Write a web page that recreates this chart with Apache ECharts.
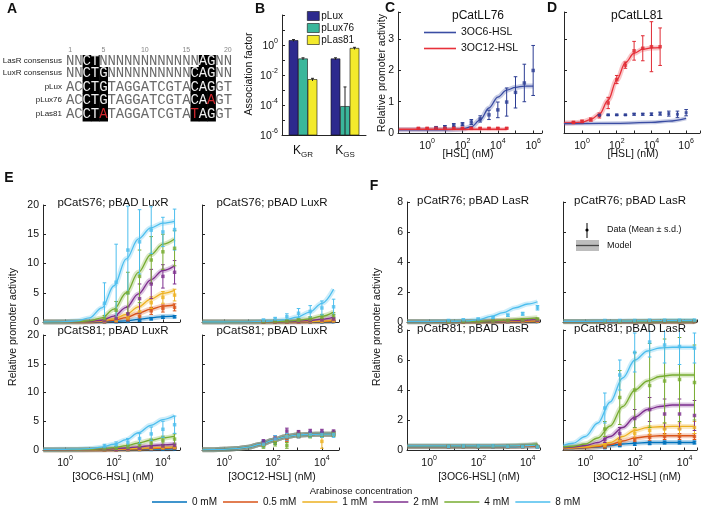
<!DOCTYPE html>
<html>
<head>
<meta charset="utf-8">
<script src="https://cdn.jsdelivr.net/npm/echarts@6/dist/echarts.min.js"></script>
<style>
html, body { margin: 0; background: #fff; }
#chart { width: 710px; height: 509px; }
</style>
</head>
<body>
<div id="chart"></div>
<script>
// ---------- panel A: sequences ----------
const seqNames = ['LasR consensus', 'LuxR consensus', 'pLux', 'pLux76', 'pLas81']
const seqs = [
  'NNCTNNNNNNNNNNNNAGNN',
  'NNCTGNNNNNNNNNNCAGNN',
  'ACCTGTAGGATCGTACAGGT',
  'ACCTGTAGGATCGTACAAGT',
  'ACCTATAGGATCGTATAGGT'
]
const boxedCols = [[3, 4, 17, 18], [3, 4, 5, 16, 17, 18], [3, 4, 5, 16, 17, 18], [3, 4, 5, 16, 17, 18], [3, 4, 5, 16, 17, 18]]
const redCols = [[], [], [], [18], [5, 16]]
const seqTicks = [1, 5, 10, 15, 20]

// ---------- panel B ----------
const bCats = ['K{sub|GR}', 'K{sub|GS}']
const bNames = ['pLux', 'pLux76', 'pLas81']
const bValues = [[2.0, 0.12], [0.12, 8e-5], [0.005, 0.6]]
const bErrLo = [[1.7, 0.1], [0.1, 1e-6], [0.004, 0.5]]
const bErrHi = [[2.3, 0.14], [0.14, 1.6e-3], [0.006, 0.7]]

// ---------- panels C and D ----------
const cHsl6 = [3.2, 10, 32, 100, 316, 1000, 3162, 10000, 31623, 1e5, 3.16e5, 1e6]
const cMean6 = [0.17, 0.2, 0.25, 0.28, 0.35, 0.45, 0.58, 0.74, 0.99, 1.3, 1.6, 2.0]
const cSd6 = [0.03, 0.04, 0.05, 0.05, 0.08, 0.1, 0.15, 0.25, 0.45, 0.5, 0.6, 0.8]
const cCurve6X = [0.025, 0.1, 1, 10, 100, 316, 1000, 3162, 10000, 31623, 1e5, 3.16e5, 1e6]
const cCurve6 = [0.1, 0.1, 0.1, 0.1, 0.13, 0.2, 0.42, 0.8, 1.15, 1.37, 1.46, 1.5, 1.5]
const cHsl12 = [0.32, 1, 3.2, 10, 32, 100, 316, 1000, 3162, 10000, 31623]
const cMean12 = [0.15, 0.15, 0.15, 0.15, 0.15, 0.15, 0.15, 0.15, 0.15, 0.15, 0.15]
const cSd12 = [0.02, 0.02, 0.02, 0.02, 0.02, 0.02, 0.02, 0.02, 0.02, 0.02, 0.02]
const cCurve12X = [0.025, 1, 100, 10000, 31623]
const cCurve12 = [0.12, 0.12, 0.12, 0.12, 0.12]

const dHsl12 = [0.32, 1, 3.2, 10, 32, 100, 316, 1000, 3162, 10000, 31623]
const dMean12 = [0.34, 0.37, 0.43, 0.56, 0.96, 1.71, 2.17, 2.63, 2.71, 2.76, 2.76]
const dSd12 = [0.03, 0.04, 0.05, 0.08, 0.18, 0.13, 0.1, 0.3, 0.4, 0.8, 0.6]
const dCurve12X = [0.09, 0.32, 1, 3.2, 10, 32, 100, 316, 1000, 3162, 10000, 31623]
const dCurve12 = [0.32, 0.33, 0.35, 0.43, 0.6, 1.05, 1.7, 2.25, 2.55, 2.68, 2.72, 2.73]
const dHsl6 = [10, 32, 100, 316, 1000, 3162, 10000, 31623, 1e5, 3.16e5, 1e6]
const dMean6 = [0.57, 0.58, 0.58, 0.58, 0.6, 0.6, 0.6, 0.62, 0.62, 0.6, 0.65]
const dSd6 = [0.02, 0.02, 0.02, 0.02, 0.03, 0.03, 0.04, 0.05, 0.08, 0.1, 0.1]
const dCurve6X = [0.09, 1, 100, 10000, 1e5, 1e6]
const dCurve6 = [0.3, 0.3, 0.31, 0.34, 0.38, 0.47]

// ---------- panels E and F ----------
const arabinose = ['0 mM', '0.5 mM', '1 mM', '2 mM', '4 mM', '8 mM']
const hslE = [41, 123, 370, 1111, 3333, 10000, 30000]
const hslF = [6.1, 24.4, 97.7, 390.6, 1562.5, 6250, 25000]
const curveXE = [0.13, 0.32, 1, 3.2, 10, 32, 100, 320, 1000, 3200, 10000, 30000]
const curveXF = [0.13, 0.32, 1, 3.2, 10, 32, 100, 320, 1000, 3200, 10000, 25000]

// E: pCatS76; pBAD LuxR vs 3OC6-HSL
const e76c6Mean = [
  [0.0, 0.05, 0.1, 0.3, 0.55, 0.8, 0.9],
  [0.05, 0.15, 0.4, 1.0, 1.9, 2.3, 2.5],
  [0.1, 0.3, 0.7, 1.8, 3.3, 4.2, 4.6],
  [0.2, 0.6, 1.4, 4.0, 6.5, 7.8, 8.5],
  [0.6, 2.0, 5.0, 7.8, 10.6, 12.0, 12.6],
  [3.2, 6.8, 12.3, 13.7, 15.7, 15.4, 15.8]
]
const e76c6Sd = [
  [0.05, 0.05, 0.1, 0.15, 0.2, 0.2, 0.2],
  [0.1, 0.1, 0.3, 0.5, 0.6, 0.6, 0.6],
  [0.1, 0.2, 0.5, 0.8, 1.0, 1.0, 1.0],
  [0.2, 0.5, 1.2, 2.5, 2.5, 2.0, 2.0],
  [0.5, 1.5, 3.5, 4.5, 4.0, 3.0, 3.0],
  [3.5, 6.5, 7.5, 5.5, 4.0, 2.5, 3.5]
]
const e76c6Curve = [
  [0, 0, 0, 0, 0.01, 0.03, 0.08, 0.2, 0.45, 0.72, 0.92, 1.0],
  [0, 0, 0, 0.01, 0.03, 0.1, 0.3, 0.75, 1.5, 2.2, 2.7, 2.95],
  [0, 0, 0, 0.01, 0.05, 0.17, 0.55, 1.3, 2.6, 3.9, 4.9, 5.4],
  [0, 0, 0.01, 0.02, 0.08, 0.3, 1.0, 2.5, 4.8, 7.2, 8.8, 9.6],
  [0, 0, 0.01, 0.05, 0.2, 0.7, 2.2, 5.0, 8.5, 11.5, 13.3, 14.2],
  [0, 0.02, 0.05, 0.2, 0.7, 2.4, 6.2, 10.8, 14.2, 16.1, 16.9, 17.2]
]
// E: pCatS76; pBAD LuxR vs 3OC12-HSL
const e76c12Mean = [
  [0, 0, 0, 0, 0, 0.02, 0.05],
  [0, 0, 0, 0.02, 0.05, 0.1, 0.15],
  [0, 0, 0.02, 0.05, 0.1, 0.15, 0.25],
  [0, 0.02, 0.05, 0.1, 0.2, 0.35, 0.5],
  [0.05, 0.1, 0.15, 0.3, 0.5, 0.8, 1.1],
  [0.3, 0.5, 0.9, 1.5, 1.8, 2.4, 2.6]
]
const e76c12Sd = [
  [0.05, 0.05, 0.05, 0.05, 0.05, 0.05, 0.05],
  [0.05, 0.05, 0.05, 0.05, 0.1, 0.1, 0.1],
  [0.05, 0.05, 0.05, 0.1, 0.1, 0.1, 0.15],
  [0.05, 0.05, 0.1, 0.1, 0.15, 0.2, 0.3],
  [0.1, 0.1, 0.2, 0.3, 0.4, 0.5, 0.5],
  [0.2, 0.3, 0.5, 0.8, 1.0, 1.2, 1.3]
]
const e76c12Curve = [
  [0, 0, 0, 0, 0, 0, 0, 0, 0.01, 0.02, 0.04, 0.07],
  [0, 0, 0, 0, 0, 0, 0, 0.01, 0.02, 0.04, 0.08, 0.15],
  [0, 0, 0, 0, 0, 0, 0.01, 0.02, 0.04, 0.08, 0.15, 0.28],
  [0, 0, 0, 0, 0, 0.01, 0.02, 0.05, 0.12, 0.25, 0.5, 0.85],
  [0, 0, 0, 0, 0.01, 0.03, 0.06, 0.13, 0.28, 0.55, 1.0, 1.7],
  [0, 0, 0, 0.01, 0.03, 0.08, 0.18, 0.4, 0.85, 1.7, 3.2, 5.6]
]
// E: pCatS81; pBAD LuxR vs 3OC6-HSL
const e81c6Mean = [
  [0.05, 0.05, 0.05, 0.1, 0.1, 0.15, 0.2],
  [0.05, 0.05, 0.1, 0.1, 0.2, 0.3, 0.35],
  [0.05, 0.1, 0.1, 0.2, 0.3, 0.4, 0.5],
  [0.1, 0.1, 0.2, 0.3, 0.5, 0.7, 0.8],
  [0.2, 0.3, 0.5, 0.8, 1.2, 1.6, 1.9],
  [0.6, 0.9, 1.3, 2.0, 2.8, 3.6, 4.4]
]
const e81c6Sd = [
  [0.05, 0.05, 0.05, 0.05, 0.05, 0.05, 0.05],
  [0.05, 0.05, 0.05, 0.05, 0.1, 0.1, 0.1],
  [0.05, 0.05, 0.05, 0.1, 0.1, 0.1, 0.15],
  [0.1, 0.1, 0.2, 0.2, 0.3, 0.3, 0.4],
  [0.2, 0.3, 0.4, 0.5, 0.7, 0.8, 0.9],
  [0.4, 0.5, 0.7, 0.9, 1.2, 1.4, 1.5]
]
const e81c6Curve = [
  [0.01, 0.01, 0.01, 0.01, 0.01, 0.02, 0.03, 0.06, 0.1, 0.14, 0.17, 0.2],
  [0.02, 0.02, 0.02, 0.02, 0.02, 0.03, 0.05, 0.1, 0.17, 0.25, 0.32, 0.36],
  [0.02, 0.02, 0.02, 0.02, 0.03, 0.05, 0.1, 0.18, 0.28, 0.38, 0.45, 0.5],
  [0.03, 0.03, 0.04, 0.05, 0.07, 0.12, 0.2, 0.35, 0.55, 0.75, 0.9, 1.0],
  [0.05, 0.05, 0.06, 0.08, 0.12, 0.2, 0.4, 0.75, 1.2, 1.7, 2.1, 2.4],
  [0.1, 0.1, 0.12, 0.15, 0.25, 0.5, 1.0, 1.8, 3.0, 4.3, 5.3, 5.95]
]
// E: pCatS81; pBAD LuxR vs 3OC12-HSL
const e81c12Mean = [
  [1.3, 1.5, 2.2, 2.6, 2.8, 2.8, 2.9],
  [1.0, 1.8, 2.0, 2.5, 2.6, 2.7, 2.8],
  [1.1, 1.7, 2.4, 2.8, 2.7, 1.5, 2.9],
  [1.4, 2.0, 3.3, 3.0, 3.2, 3.2, 3.1],
  [0.7, 1.2, 0.8, 2.6, 2.5, 2.6, 2.8],
  [1.0, 1.9, 2.3, 2.6, 2.7, 2.7, 2.7]
]
const e81c12Sd = [
  [0.4, 0.5, 0.5, 0.4, 0.4, 0.4, 0.4],
  [0.4, 0.5, 0.5, 0.4, 0.4, 0.4, 0.4],
  [0.4, 0.5, 0.5, 0.4, 0.4, 1.2, 0.4],
  [0.4, 0.5, 0.5, 0.4, 0.4, 0.4, 0.4],
  [0.4, 0.5, 0.5, 0.4, 0.4, 0.4, 0.4],
  [0.5, 0.6, 0.6, 0.5, 0.5, 0.5, 0.5]
]
const e81c12Curve = [
  [0.03, 0.06, 0.12, 0.25, 0.5, 1.0, 1.7, 2.3, 2.6, 2.7, 2.75, 2.75],
  [0.03, 0.06, 0.12, 0.25, 0.5, 1.0, 1.7, 2.3, 2.6, 2.7, 2.75, 2.75],
  [0.03, 0.06, 0.12, 0.25, 0.5, 1.0, 1.7, 2.3, 2.6, 2.7, 2.75, 2.75],
  [0.03, 0.06, 0.12, 0.25, 0.5, 1.0, 1.7, 2.3, 2.6, 2.7, 2.75, 2.75],
  [0.03, 0.06, 0.12, 0.25, 0.5, 1.0, 1.7, 2.3, 2.6, 2.7, 2.75, 2.75],
  [0.03, 0.06, 0.12, 0.25, 0.5, 1.0, 1.7, 2.3, 2.6, 2.7, 2.75, 2.75]
]
// F: pCatR76; pBAD LasR vs 3OC6-HSL
const f76c6Mean = [
  [0.02, 0.02, 0.02, 0.02, 0.02, 0.03, 0.03],
  [0.02, 0.02, 0.03, 0.03, 0.03, 0.04, 0.05],
  [0.02, 0.03, 0.03, 0.04, 0.05, 0.06, 0.08],
  [0.03, 0.03, 0.04, 0.05, 0.07, 0.09, 0.12],
  [0.03, 0.04, 0.05, 0.07, 0.1, 0.14, 0.2],
  [0.1, 0.15, 0.2, 0.3, 0.45, 0.55, 0.95]
]
const f76c6Sd = [
  [0.02, 0.02, 0.02, 0.02, 0.02, 0.02, 0.02],
  [0.02, 0.02, 0.02, 0.02, 0.02, 0.02, 0.02],
  [0.02, 0.02, 0.02, 0.02, 0.02, 0.02, 0.02],
  [0.02, 0.02, 0.02, 0.02, 0.02, 0.03, 0.03],
  [0.02, 0.02, 0.02, 0.03, 0.03, 0.04, 0.05],
  [0.03, 0.04, 0.05, 0.06, 0.08, 0.1, 0.15]
]
const f76c6Curve = [
  [0.02, 0.02, 0.02, 0.02, 0.02, 0.02, 0.02, 0.02, 0.02, 0.03, 0.03, 0.03],
  [0.02, 0.02, 0.02, 0.02, 0.02, 0.02, 0.02, 0.03, 0.03, 0.04, 0.05, 0.06],
  [0.02, 0.02, 0.02, 0.02, 0.02, 0.02, 0.03, 0.04, 0.05, 0.06, 0.08, 0.1],
  [0.02, 0.02, 0.02, 0.02, 0.02, 0.03, 0.04, 0.05, 0.07, 0.1, 0.13, 0.16],
  [0.02, 0.02, 0.02, 0.02, 0.03, 0.04, 0.05, 0.08, 0.12, 0.17, 0.23, 0.28],
  [0.02, 0.02, 0.03, 0.04, 0.05, 0.08, 0.15, 0.37, 0.62, 0.95, 1.2, 1.35]
]
// F: pCatR76; pBAD LasR vs 3OC12-HSL
const f76c12Mean = [
  [0.03, 0.03, 0.03, 0.03, 0.03, 0.03, 0.03],
  [0.03, 0.03, 0.03, 0.03, 0.03, 0.03, 0.03],
  [0.03, 0.03, 0.03, 0.04, 0.04, 0.04, 0.04],
  [0.04, 0.04, 0.04, 0.05, 0.05, 0.05, 0.05],
  [0.05, 0.05, 0.06, 0.07, 0.07, 0.07, 0.08],
  [0.1, 0.1, 0.1, 0.12, 0.12, 0.12, 0.13]
]
const f76c12Sd = [
  [0.02, 0.02, 0.02, 0.02, 0.02, 0.02, 0.02],
  [0.02, 0.02, 0.02, 0.02, 0.02, 0.02, 0.02],
  [0.02, 0.02, 0.02, 0.02, 0.02, 0.02, 0.02],
  [0.02, 0.02, 0.02, 0.02, 0.02, 0.02, 0.02],
  [0.02, 0.02, 0.02, 0.02, 0.02, 0.02, 0.02],
  [0.03, 0.03, 0.03, 0.03, 0.03, 0.03, 0.03]
]
const f76c12Curve = [
  [0.02, 0.02, 0.02, 0.02, 0.02, 0.02, 0.02, 0.02, 0.02, 0.02, 0.02, 0.02],
  [0.02, 0.02, 0.02, 0.02, 0.02, 0.02, 0.02, 0.02, 0.02, 0.02, 0.02, 0.02],
  [0.02, 0.02, 0.02, 0.02, 0.02, 0.02, 0.03, 0.03, 0.03, 0.03, 0.03, 0.03],
  [0.03, 0.03, 0.03, 0.03, 0.03, 0.03, 0.03, 0.04, 0.04, 0.04, 0.04, 0.04],
  [0.03, 0.03, 0.03, 0.03, 0.04, 0.04, 0.05, 0.05, 0.06, 0.06, 0.06, 0.06],
  [0.04, 0.04, 0.04, 0.05, 0.05, 0.06, 0.07, 0.08, 0.09, 0.1, 0.1, 0.1]
]
// F: pCatR81; pBAD LasR vs 3OC6-HSL
const f81c6Mean = [
  [0.22, 0.22, 0.22, 0.23, 0.22, 0.22, 0.2],
  [0.23, 0.23, 0.23, 0.24, 0.23, 0.23, 0.22],
  [0.24, 0.24, 0.24, 0.25, 0.24, 0.24, 0.22],
  [0.24, 0.25, 0.25, 0.26, 0.25, 0.25, 0.23],
  [0.25, 0.26, 0.26, 0.27, 0.26, 0.25, 0.24],
  [0.25, 0.27, 0.27, 0.28, 0.25, 0.24, 0.2]
]
const f81c6Sd = [
  [0.03, 0.03, 0.03, 0.03, 0.03, 0.03, 0.03],
  [0.03, 0.03, 0.03, 0.03, 0.03, 0.03, 0.03],
  [0.03, 0.03, 0.03, 0.03, 0.03, 0.03, 0.03],
  [0.03, 0.03, 0.03, 0.03, 0.03, 0.03, 0.03],
  [0.03, 0.03, 0.03, 0.03, 0.03, 0.03, 0.03],
  [0.04, 0.04, 0.04, 0.04, 0.04, 0.04, 0.04]
]
const f81c6Curve = [
  [0.22, 0.22, 0.22, 0.22, 0.22, 0.22, 0.22, 0.22, 0.22, 0.23, 0.24, 0.25],
  [0.23, 0.23, 0.23, 0.23, 0.23, 0.23, 0.23, 0.23, 0.23, 0.24, 0.26, 0.28],
  [0.24, 0.24, 0.24, 0.24, 0.24, 0.24, 0.24, 0.24, 0.25, 0.26, 0.28, 0.31],
  [0.25, 0.25, 0.25, 0.25, 0.25, 0.25, 0.25, 0.25, 0.26, 0.27, 0.3, 0.35],
  [0.26, 0.26, 0.26, 0.26, 0.26, 0.26, 0.26, 0.26, 0.27, 0.29, 0.33, 0.4],
  [0.27, 0.27, 0.27, 0.27, 0.27, 0.27, 0.27, 0.27, 0.27, 0.28, 0.3, 0.33]
]
// F: pCatR81; pBAD LasR vs 3OC12-HSL
const f81c12Mean = [
  [0.15, 0.3, 0.4, 0.45, 0.5, 0.5, 0.5],
  [0.2, 0.4, 0.7, 0.85, 0.9, 0.9, 0.9],
  [0.3, 0.6, 1.1, 1.3, 1.4, 1.4, 1.5],
  [0.7, 1.1, 2.1, 2.7, 2.4, 2.4, 2.3],
  [1.4, 3.5, 4.0, 4.3, 4.6, 4.7, 4.5],
  [2.8, 5.0, 6.5, 7.2, 7.0, 6.9, 6.8]
]
const f81c12Sd = [
  [0.05, 0.08, 0.1, 0.1, 0.1, 0.1, 0.1],
  [0.08, 0.1, 0.15, 0.2, 0.2, 0.2, 0.2],
  [0.1, 0.2, 0.3, 0.3, 0.4, 0.4, 0.4],
  [0.2, 0.4, 0.6, 0.8, 1.0, 1.0, 1.0],
  [0.5, 1.8, 2.5, 2.8, 2.8, 2.8, 2.5],
  [1.0, 1.0, 1.3, 1.0, 1.2, 1.2, 1.0]
]
const f81c12Curve = [
  [0.1, 0.1, 0.15, 0.2, 0.3, 0.4, 0.45, 0.5, 0.5, 0.5, 0.5, 0.5],
  [0.1, 0.12, 0.15, 0.22, 0.35, 0.6, 0.8, 0.9, 0.95, 0.95, 0.95, 0.95],
  [0.12, 0.15, 0.2, 0.3, 0.5, 0.9, 1.3, 1.5, 1.55, 1.57, 1.57, 1.57],
  [0.15, 0.2, 0.3, 0.5, 0.9, 1.5, 2.2, 2.7, 2.9, 3.0, 3.0, 3.0],
  [0.2, 0.25, 0.4, 0.8, 1.6, 2.9, 4.0, 4.6, 4.9, 5.0, 5.0, 5.0],
  [0.3, 0.45, 0.9, 1.8, 3.2, 4.8, 6.0, 6.6, 6.8, 6.85, 6.85, 6.85]
]

// ---------- styles ----------
const araColors = ['#0072BD', '#D95319', '#EDB120', '#7E2F8E', '#77AC30', '#4DBEEE']
const bColors = ['#2d2a8e', '#3ab79b', '#f3ea2c']
const hslColors = { '3OC6-HSL': '#3a4da3', '3OC12-HSL': '#e8313a' }
const FONT = '"Liberation Sans", Arial, sans-serif'
const AXC = '#262626'

const chart = echarts.init(document.getElementById('chart'))

const grids = [
  { left: 282, top: 15, width: 84, height: 120 },   // 0 B
  { left: 398, top: 12, width: 144, height: 121 },  // 1 C
  { left: 564, top: 12, width: 136, height: 121 },  // 2 D
  { left: 43, top: 205, width: 137, height: 117 },  // 3 E TL
  { left: 202, top: 205, width: 137, height: 117 }, // 4 E TR
  { left: 43, top: 335, width: 137, height: 115 },  // 5 E BL
  { left: 202, top: 335, width: 137, height: 115 }, // 6 E BR
  { left: 407, top: 202, width: 133, height: 120 }, // 7 F TL
  { left: 563, top: 202, width: 134, height: 120 }, // 8 F TR
  { left: 407, top: 330, width: 133, height: 120 }, // 9 F BL
  { left: 563, top: 330, width: 134, height: 120 }  // 10 F BR
]

const supRich = {
  b: { fontSize: 10.5, fontFamily: FONT, color: '#111', lineHeight: 14, verticalAlign: 'bottom' },
  s: { fontSize: 7, fontFamily: FONT, color: '#111', lineHeight: 14, verticalAlign: 'top' }
}
function powLabel(v) {
  const l = Math.log10(v)
  const e = Math.round(l)
  if (Math.abs(l - e) > 1e-6 || e % 2 !== 0) return ''
  return '{b|10}{s|' + e + '}'
}

function xLog(gi, min, max, showLabel) {
  return {
    type: 'log', logBase: 10, gridIndex: gi, min, max,
    axisLine: { onZero: false, lineStyle: { color: AXC, width: 1 } },
    axisTick: { inside: true, length: 2.5, lineStyle: { color: AXC } },
    splitLine: { show: false },
    axisLabel: { show: showLabel, formatter: powLabel, rich: supRich, margin: 5 }
  }
}
function yLin(gi, max, interval, showLabel) {
  return {
    type: 'value', gridIndex: gi, min: 0, max, interval,
    axisLine: { show: true, lineStyle: { color: AXC, width: 1 } },
    axisTick: { show: true, inside: true, length: 3, lineStyle: { color: AXC } },
    splitLine: { show: false },
    axisLabel: {
      show: showLabel, fontSize: 10.5, fontFamily: FONT, color: '#111', margin: 4,
      formatter: v => (Math.abs(v - Math.round(v)) < 1e-9 ? String(Math.round(v)) : '')
    }
  }
}

const xAxes = [
  {
    type: 'category', gridIndex: 0, data: bCats,
    axisLine: { lineStyle: { color: AXC } }, axisTick: { show: false },
    axisLabel: {
      interval: 0, margin: 8, formatter: v => v,
      rich: {
        sub: { fontSize: 8, fontFamily: FONT, color: '#111', verticalAlign: 'bottom', lineHeight: 16 }
      },
      fontSize: 12, fontFamily: FONT, color: '#111', lineHeight: 14
    }
  },
  xLog(1, 0.0224, 3.16e6, true),
  xLog(2, 0.091, 6.3e6, true),
  xLog(3, 0.126, 50000, false),
  xLog(4, 0.126, 50000, false),
  xLog(5, 0.126, 50000, true),
  xLog(6, 0.126, 50000, true),
  xLog(7, 0.126, 31623, false),
  xLog(8, 0.126, 31623, false),
  xLog(9, 0.126, 31623, true),
  xLog(10, 0.126, 31623, true)
]
const yAxes = [
  {
    type: 'log', logBase: 10, gridIndex: 0, min: 1e-6, max: 100,
    axisLine: { show: true, lineStyle: { color: AXC } },
    axisTick: { show: true, inside: true, length: 3, lineStyle: { color: AXC } },
    splitLine: { show: false },
    axisLabel: {
      formatter: v => { const s = powLabel(v); return Math.round(Math.log10(v)) > 0 ? '' : s },
      rich: supRich, margin: 4
    }
  },
  yLin(1, 3.87, 1, true),
  yLin(2, 3.87, 1, false),
  yLin(3, 20, 5, true),
  yLin(4, 20, 5, false),
  yLin(5, 20, 5, true),
  yLin(6, 20, 5, false),
  yLin(7, 8, 2, true),
  yLin(8, 8, 2, false),
  yLin(9, 8, 2, true),
  yLin(10, 8, 2, false)
]

// ---------- series ----------
const series = []

function errRender(color, cap) {
  return function (params, api) {
    const x = api.value(0)
    const p1 = api.coord([x, api.value(2)])
    const p2 = api.coord([x, api.value(1)])
    const st = { stroke: color, lineWidth: 1 }
    return {
      type: 'group',
      children: [
        { type: 'line', shape: { x1: p1[0], y1: p1[1], x2: p2[0], y2: p2[1] }, style: st },
        { type: 'line', shape: { x1: p1[0] - cap, y1: p1[1], x2: p1[0] + cap, y2: p1[1] }, style: st },
        { type: 'line', shape: { x1: p2[0] - cap, y1: p2[1], x2: p2[0] + cap, y2: p2[1] }, style: st }
      ]
    }
  }
}

function addModel(gi, name, color, xs, ys, bandWidth) {
  const data = xs.map((x, i) => [x, ys[i]])
  series.push({
    type: 'line', name, xAxisIndex: gi, yAxisIndex: gi, data, smooth: 0.35, smoothMonotone: 'x',
    symbol: 'none', itemStyle: { color }, lineStyle: { color, width: 1.3 }, z: 4, silent: true
  })
  series.push({
    type: 'line', name, xAxisIndex: gi, yAxisIndex: gi, data, smooth: 0.35, smoothMonotone: 'x',
    symbol: 'none', itemStyle: { color }, lineStyle: { color, width: bandWidth, opacity: 0.28 }, z: 3, silent: true
  })
}
function addData(gi, name, color, xs, mean, sd, size) {
  series.push({
    type: 'custom', name, xAxisIndex: gi, yAxisIndex: gi, clip: true, silent: true,
    renderItem: errRender(color, 1.8), itemStyle: { color },
    encode: { x: 0, y: [1, 2] },
    data: xs.map((x, i) => [x, mean[i] - sd[i], mean[i] + sd[i]]), z: 5
  })
  series.push({
    type: 'scatter', name, xAxisIndex: gi, yAxisIndex: gi, silent: true,
    data: xs.map((x, i) => [x, mean[i]]), symbol: 'rect', symbolSize: size || 3.5,
    itemStyle: { color }, z: 6
  })
}
function addAraPanel(gi, xs, means, sds, curveX, curves) {
  for (let k = 0; k < 6; k++) {
    addModel(gi, arabinose[k], araColors[k], curveX, curves[k], 5)
    addData(gi, arabinose[k], araColors[k], xs, means[k], sds[k], 3.5)
  }
}

// B: bars drawn from the axis floor
bNames.forEach((name, si) => {
  series.push({
    type: 'custom', name, xAxisIndex: 0, yAxisIndex: 0, silent: true,
    itemStyle: { color: bColors[si] },
    encode: { x: 0, y: 1 },
    data: bValues[si].map((v, ci) => [ci, v, bErrLo[si][ci], bErrHi[si][ci]]),
    renderItem: function (params, api) {
      const c = api.value(0)
      const top = api.coord([c, api.value(1)])
      const base = api.coord([c, 1e-6])
      const cx = top[0] + (si - 1) * 9.5
      const hi = api.coord([c, api.value(3)])
      const lo = api.coord([c, api.value(2)])
      return {
        type: 'group',
        children: [
          { type: 'rect', shape: { x: cx - 4.5, y: top[1], width: 9, height: base[1] - top[1] },
            style: { fill: bColors[si], stroke: '#111', lineWidth: 0.6 } },
          { type: 'line', shape: { x1: cx, y1: hi[1], x2: cx, y2: lo[1] }, style: { stroke: '#222', lineWidth: 1 } },
          { type: 'line', shape: { x1: cx - 1.5, y1: hi[1], x2: cx + 1.5, y2: hi[1] }, style: { stroke: '#222', lineWidth: 1 } }
        ]
      }
    }
  })
})

// C and D
addModel(1, '3OC6-HSL', hslColors['3OC6-HSL'], cCurve6X, cCurve6, 5)
addModel(1, '3OC12-HSL', hslColors['3OC12-HSL'], cCurve12X, cCurve12, 4)
addData(1, '3OC6-HSL', '#2c3d93', cHsl6, cMean6, cSd6, 3.5)
addData(1, '3OC12-HSL', '#e02a33', cHsl12, cMean12, cSd12, 3.5)
addModel(2, '3OC12-HSL', hslColors['3OC12-HSL'], dCurve12X, dCurve12, 5)
addModel(2, '3OC6-HSL', hslColors['3OC6-HSL'], dCurve6X, dCurve6, 4)
addData(2, '3OC12-HSL', '#e02a33', dHsl12, dMean12, dSd12, 3.5)
addData(2, '3OC6-HSL', '#2c3d93', dHsl6, dMean6, dSd6, 3)

// E and F
addAraPanel(3, hslE, e76c6Mean, e76c6Sd, curveXE, e76c6Curve)
addAraPanel(4, hslE, e76c12Mean, e76c12Sd, curveXE, e76c12Curve)
addAraPanel(5, hslE, e81c6Mean, e81c6Sd, curveXE, e81c6Curve)
addAraPanel(6, hslE, e81c12Mean, e81c12Sd, curveXE, e81c12Curve)
addAraPanel(7, hslF, f76c6Mean, f76c6Sd, curveXF, f76c6Curve)
addAraPanel(8, hslF, f76c12Mean, f76c12Sd, curveXF, f76c12Curve)
addAraPanel(9, hslF, f81c6Mean, f81c6Sd, curveXF, f81c6Curve)
addAraPanel(10, hslF, f81c12Mean, f81c12Sd, curveXF, f81c12Curve)

// ---------- text and panel A ----------
const graphics = []
function txt(x, y, s, st, rot) {
  graphics.push({
    type: 'text', x, y, rotation: rot || 0, silent: true, z: 100,
    style: Object.assign({ text: s, fill: '#111', fontSize: 10.5, fontFamily: FONT, align: 'center', verticalAlign: 'middle' }, st || {})
  })
}
const letter = { fontSize: 14, fontWeight: 'bold' }
txt(12, 9, 'A', letter)
txt(260, 9, 'B', letter)
txt(390, 8, 'C', letter)
txt(552, 8, 'D', letter)
txt(9, 178, 'E', letter)
txt(374, 186, 'F', letter)

// panel A
const rowY = [61, 73, 87, 100, 114]
const seqX0 = 66
const cellW = 8.3
seqTicks.forEach(n => txt(seqX0 + (n - 0.5) * cellW, 50, String(n), { fontSize: 7, fill: '#888' }))
seqNames.forEach((nm, r) => {
  txt(62, rowY[r], nm, { fontSize: 8, align: 'right', fill: '#222' })
  const top = r === 0 ? rowY[r] - 6 : (rowY[r - 1] + rowY[r]) / 2
  const bot = r === rowY.length - 1 ? rowY[r] + 7 : (rowY[r] + rowY[r + 1]) / 2
  boxedCols[r].forEach(c => {
    graphics.push({
      type: 'rect', silent: true, z: 90,
      shape: { x: seqX0 + (c - 1) * cellW, y: top, width: cellW + 0.5, height: bot - top + 0.5 },
      style: { fill: '#000' }
    })
  })
  seqs[r].split('').forEach((ch, i) => {
    const col = i + 1
    let fill = '#6a6a6a'
    if (boxedCols[r].includes(col)) fill = '#eee'
    if (redCols[r].includes(col)) fill = '#d0282e'
    txt(seqX0 + (col - 0.5) * cellW, rowY[r] + 0.5, ch, { fontSize: 14, fontFamily: '"Liberation Mono", monospace', fill })
  })
})

// axis names
txt(249, 74, 'Association factor', { fontSize: 10.5 }, Math.PI / 2)
txt(382, 73, 'Relative promoter activity', { fontSize: 10.5 }, Math.PI / 2)
txt(13, 327, 'Relative promoter activity', { fontSize: 10.5 }, Math.PI / 2)
txt(377, 327, 'Relative promoter activity', { fontSize: 10.5 }, Math.PI / 2)
txt(468, 154, '[HSL] (nM)')
txt(633, 154, '[HSL] (nM)')
txt(113, 477, '[3OC6-HSL] (nM)')
txt(272, 477, '[3OC12-HSL] (nM)')
txt(479, 477, '[3OC6-HSL] (nM)')
txt(637, 477, '[3OC12-HSL] (nM)')
txt(361, 491, 'Arabinose concentration', { fontSize: 9.5 })

// titles
const titleSt = { fontSize: 11.5 }
txt(478, 16, 'pCatLL76', { fontSize: 12 })
txt(637, 16, 'pCatLL81', { fontSize: 12 })
txt(113, 203, 'pCatS76; pBAD LuxR', titleSt)
txt(272, 203, 'pCatS76; pBAD LuxR', titleSt)
txt(113, 331, 'pCatS81; pBAD LuxR', titleSt)
txt(272, 331, 'pCatS81; pBAD LuxR', titleSt)
txt(473, 201, 'pCatR76; pBAD LasR', titleSt)
txt(630, 201, 'pCatR76; pBAD LasR', titleSt)
txt(473, 329, 'pCatR81; pBAD LasR', titleSt)
txt(630, 329, 'pCatR81; pBAD LasR', titleSt)

// key inside F top-right
graphics.push({ type: 'line', silent: true, z: 100, shape: { x1: 587, y1: 223, x2: 587, y2: 238 }, style: { stroke: '#000', lineWidth: 1 } })
graphics.push({ type: 'circle', silent: true, z: 100, shape: { cx: 587, cy: 230, r: 1.6 }, style: { fill: '#000' } })
txt(607, 230, 'Data (Mean \u00b1 s.d.)', { fontSize: 9, align: 'left' })
graphics.push({ type: 'rect', silent: true, z: 100, shape: { x: 576, y: 240, width: 23, height: 11 }, style: { fill: '#bdbdbd' } })
graphics.push({ type: 'line', silent: true, z: 101, shape: { x1: 576, y1: 245.5, x2: 599, y2: 245.5 }, style: { stroke: '#444', lineWidth: 1.3 } })
txt(607, 246, 'Model', { fontSize: 9, align: 'left' })

chart.setOption({
  animation: false,
  backgroundColor: '#fff',
  textStyle: { fontFamily: FONT },
  grid: grids,
  xAxis: xAxes,
  yAxis: yAxes,
  legend: [
    {
      data: arabinose, left: 152, top: 497, padding: 0, itemWidth: 35, itemHeight: 1.6, icon: 'rect', itemGap: 6,
      textStyle: { fontSize: 10, fontFamily: FONT, color: '#111' }, selectedMode: false
    },
    {
      data: ['3OC6-HSL', '3OC12-HSL'], orient: 'vertical', left: 424, top: 27, padding: 0, itemWidth: 32, itemHeight: 1.6,
      icon: 'rect', itemGap: 5, textStyle: { fontSize: 10.5, fontFamily: FONT, color: '#111' }, selectedMode: false
    },
    {
      data: bNames, orient: 'vertical', left: 307, top: 11, padding: 0, itemWidth: 12, itemHeight: 9, icon: 'rect', itemGap: 2,
      itemStyle: { borderColor: '#111', borderWidth: 0.6 },
      textStyle: { fontSize: 10, lineHeight: 10, fontFamily: FONT, color: '#111', padding: [0, 0, 0, -3] }, selectedMode: false
    }
  ],
  graphic: { elements: graphics },
  series
})
</script>
</body>
</html>
